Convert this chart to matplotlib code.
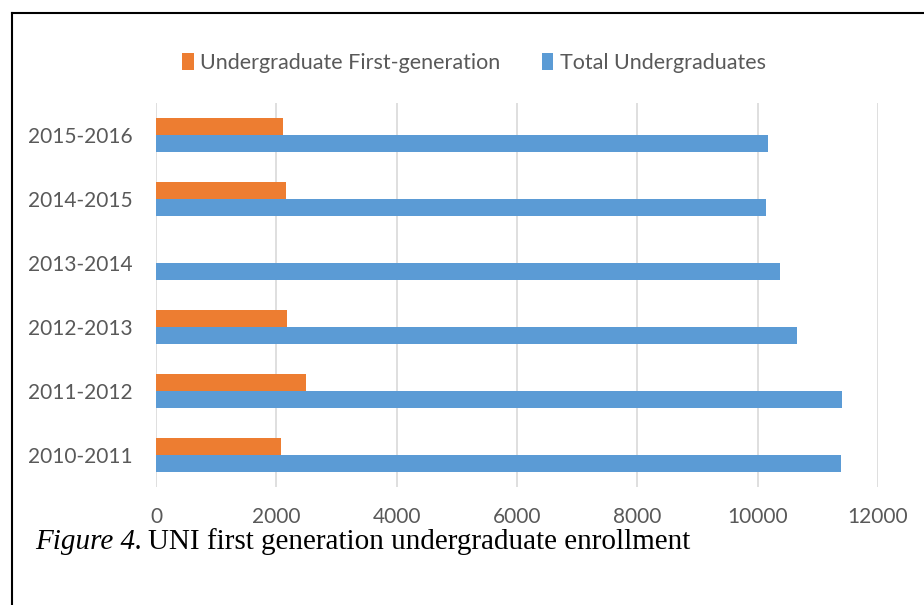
import numpy as np
import matplotlib.pyplot as plt

years = ['2010-2011', '2011-2012', '2012-2013', '2013-2014', '2014-2015', '2015-2016']
first_gen = [2080, 2495, 2175, 0, 2155, 2118]
total = [11392, 11408, 10655, 10378, 10144, 10170]
ticks = [0, 2000, 4000, 6000, 8000, 10000, 12000]

orange = '#ED7D31'
blue = '#5B9BD5'
grey = '#595959'

fig = plt.figure(figsize=(9.24, 6.05), dpi=100)
ax = fig.add_axes([156 / 924, 1 - 487 / 605, 722 / 924, 384 / 605])

y = np.arange(len(years))
h = 0.266
ax.barh(y + h / 2, first_gen, height=h, color=orange, label='Undergraduate First-generation', zorder=3)
ax.barh(y - h / 2, total, height=h, color=blue, label='Total Undergraduates', zorder=3)

ax.set_xlim(0, 12000)
ax.set_ylim(-0.5, len(years) - 0.5)
ax.set_xticks(ticks)
ax.set_xticklabels([str(t) for t in ticks])
ax.set_yticks(y)
ax.set_yticklabels(years)
ax.grid(axis='x', color='#d9d9d9', lw=1.2, zorder=0)
for s in ax.spines.values():
    s.set_visible(False)
ax.tick_params(length=0, labelsize=15, labelcolor=grey)
ax.tick_params(axis='x', pad=14.5)
ax.tick_params(axis='y', pad=16.5)
for lbl in ax.get_xticklabels() + ax.get_yticklabels():
    lbl.set_family('Lato')

fig.legend(loc='center', bbox_to_anchor=(474 / 924, 1 - 63 / 605), ncol=2, frameon=False,
           prop={'family': 'Lato', 'size': 15.5}, labelcolor=grey, handlelength=0.55,
           handleheight=0.85, handletextpad=0.3, columnspacing=1.9)

# border around the chart
fig.add_artist(plt.Line2D([12 / 924, 12 / 924], [0, 1 - 13 / 605], color='black', lw=1.5))
fig.add_artist(plt.Line2D([12 / 924, 1], [1 - 13 / 605, 1 - 13 / 605], color='black', lw=1.5))

cap = fig.text(35 / 924, 1 - 549 / 605, 'Figure 4.', family='Liberation Serif', style='italic',
               fontsize=21, va='baseline')
fig.canvas.draw()
bb = cap.get_window_extent()
fig.text((bb.x1 + 6) / 924, 1 - 549 / 605, 'UNI first generation undergraduate enrollment',
         family='Liberation Serif', fontsize=21, va='baseline')

fig.savefig('out.png', dpi=100)
